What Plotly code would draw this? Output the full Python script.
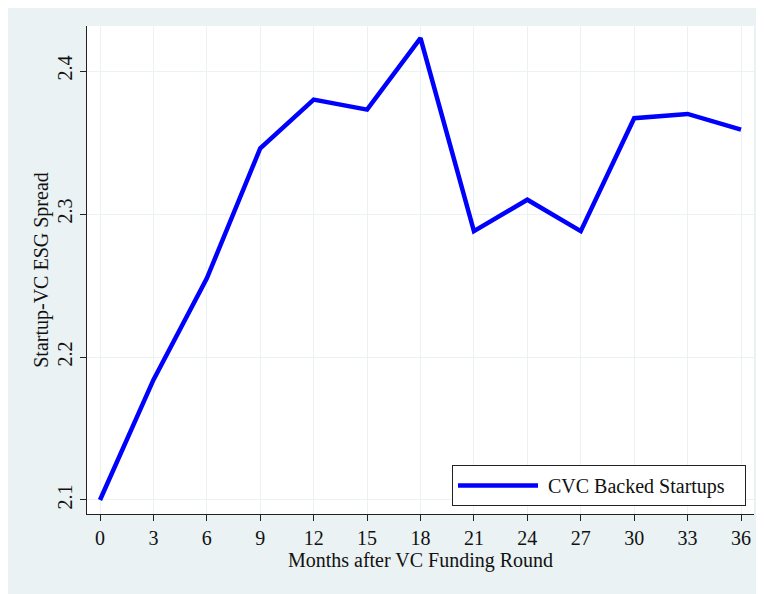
import plotly.graph_objects as go

months = [0, 3, 6, 9, 12, 15, 18, 21, 24, 27, 30, 33, 36]
spread = [2.100, 2.184, 2.255, 2.346, 2.380, 2.373, 2.423, 2.288, 2.310, 2.288, 2.367, 2.370, 2.359]
x_ticks = list(range(0, 37, 3))
y_ticks = [2.1, 2.2, 2.3, 2.4]
series_name = "CVC Backed Startups"
x_title = "Months after VC Funding Round"
y_title = "Startup-VC ESG Spread"

# page body has an 8px margin; figure is sized to fill the rest of the window
OFF = 8
W, H = 764 - OFF, 594 - OFF
PL, PR, PT, PB = 87, 754, 26, 514          # plot box in page pixels
L, R, T, B = PL - OFF, 764 - PR, PT - OFF, 594 - PB
pw, ph = PR - PL, PB - PT

panel = "#EAF2F3"
font = dict(family="Liberation Serif, Times New Roman, serif", size=20, color="#111111")

def px_x(p):
    return (p - PL) / pw

def px_y(p):
    return (PB - p) / ph

fig = go.Figure()
fig.add_trace(go.Scatter(x=months, y=spread, mode="lines",
                         name="\u00a0" + series_name + "\u00a0\u00a0\u00a0",
                         line=dict(color="#0000FF", width=4.5)))

fig.add_shape(type="rect", xref="paper", yref="paper", layer="below",
              x0=0, x1=1, y0=0, y1=1, fillcolor="white", line=dict(width=0))

fig.update_layout(
    width=W, height=H,
    margin=dict(l=L, r=R, t=T, b=B),
    paper_bgcolor=panel, plot_bgcolor="white",
    font=font,
    showlegend=True,
    legend=dict(x=px_x(746), xanchor="right", y=px_y(506), yanchor="bottom",
                bgcolor="white", bordercolor="#222222", borderwidth=1,
                itemwidth=80, font=font),
    xaxis=dict(range=[-0.73, 36.73], tickmode="array", tickvals=x_ticks,
               ticks="outside", ticklen=6, tickcolor="#222222", tickwidth=1,
               showline=True, linecolor="#222222", linewidth=1,
               showgrid=True, gridcolor=panel, gridwidth=1, zeroline=False,
               title=dict(text=x_title, standoff=2, font=font), tickfont=font),
    yaxis=dict(range=[2.0902, 2.4315], tickmode="array", tickvals=y_ticks,
               ticktext=[f"{v:.1f}" for v in y_ticks], tickangle=-90,
               ticks="outside", ticklen=6, tickcolor="#222222", tickwidth=1,
               showline=True, linecolor="#222222", linewidth=1,
               showgrid=True, gridcolor=panel, gridwidth=1, zeroline=False,
               title=dict(text=y_title, standoff=0, font=font), tickfont=font),
)

fig.write_html("out.html")
